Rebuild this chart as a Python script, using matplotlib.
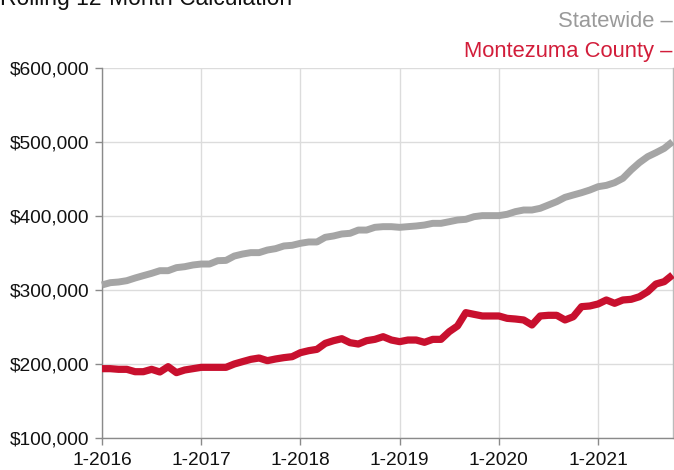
import matplotlib
matplotlib.use("Agg")
import matplotlib.pyplot as plt
import numpy as np

plt.rcParams['font.family'] = ['Liberation Sans', 'DejaVu Sans']

# Monthly data Jan 2016 .. Oct 2021
statewide = [
    306.8, 309.9, 310.8, 312.6, 316.2, 319.4, 322.5, 326.1, 326.1, 330.2, 331.5, 333.8,
    335.1, 335.1, 339.6, 340.0, 345.9, 348.6, 350.5, 350.5, 354.0, 355.9, 359.5, 360.4,
    363.1, 364.9, 364.9, 371.2, 373.0, 375.7, 376.6, 381.0, 381.0, 384.7, 385.6, 385.6,
    384.7, 385.6, 386.5, 387.8, 390.1, 390.1, 392.3, 394.6, 395.5, 399.1, 400.5, 400.5,
    400.5, 402.3, 405.9, 408.1, 408.1, 410.4, 414.9, 419.4, 425.2, 428.4, 431.5, 435.1,
    439.6, 441.4, 445.0, 450.9, 462.2, 472.1, 480.2, 485.6, 491.4, 500.4,
]
montezuma = [
    193.7, 193.7, 192.8, 192.8, 189.6, 189.6, 192.8, 189.2, 196.4, 188.3, 191.9, 193.7,
    195.5, 195.5, 195.5, 195.5, 200.0, 203.2, 206.3, 208.1, 204.5, 206.8, 208.6, 209.9,
    215.3, 218.0, 219.8, 227.9, 231.5, 234.2, 228.8, 227.0, 231.5, 233.3, 236.9, 232.4,
    230.2, 232.4, 232.4, 229.3, 233.3, 233.3, 243.7, 251.4, 269.4, 267.1, 264.9, 264.9,
    264.9, 261.7, 260.8, 259.5, 252.7, 264.9, 265.8, 265.8, 259.5, 263.9, 277.5, 278.4,
    281.1, 286.5, 282.0, 286.5, 287.4, 290.9, 297.7, 308.1, 311.3, 320.3,
]
x_tick_labels = ['1-2016', '1-2017', '1-2018', '1-2019', '1-2020', '1-2021']
y_ticks = [100000, 200000, 300000, 400000, 500000, 600000]

months = np.arange(len(statewide))
sw = np.array(statewide) * 1000
mc = np.array(montezuma) * 1000

W, H = 674, 470
fig = plt.figure(figsize=(W / 100, H / 100), dpi=100)
ax = fig.add_axes([102 / W, 1 - 438 / H, (672.5 - 102) / W, (438 - 68) / H])

gray = '#a5a5a5'
red = '#c8102e'

ax.plot(months, sw, color=gray, lw=5.0, solid_capstyle='butt', solid_joinstyle='round', zorder=3, clip_on=False)
ax.plot(months, mc, color=red, lw=5.2, solid_capstyle='butt', solid_joinstyle='round', zorder=4, clip_on=False)

ax.set_xlim(0, len(statewide) - 1)
ax.set_ylim(100000, 600000)
ax.set_xticks(np.arange(0, len(statewide), 12))
ax.set_xticklabels(x_tick_labels)
ax.set_yticks(y_ticks)
ax.set_yticklabels(['${:,.0f}'.format(v) for v in y_ticks])

ax.grid(True, color='#dcdcdc', lw=1.0, zorder=0)
ax.set_axisbelow(True)
ax.spines['top'].set_visible(False)
ax.spines['right'].set_color('#bbbbbb')
ax.spines['right'].set_linewidth(1.0)
for s in ['left', 'bottom']:
    ax.spines[s].set_color('#8a8a8a')
    ax.spines[s].set_linewidth(1.0)

ax.tick_params(axis='both', colors='#8a8a8a', labelcolor='#111111', labelsize=13.8,
               length=5, width=1.0, direction='out')
ax.tick_params(axis='y', pad=4)
ax.tick_params(axis='x', pad=5)

fig.text(0, 1 - 5 / H, 'Rolling 12-Month Calculation', fontsize=16.5, color='#111111',
         ha='left', va='baseline')
fig.text(673 / W, 1 - 27 / H, 'Statewide \u2013', fontsize=15.8, color='#9a9a9a',
         ha='right', va='baseline')
fig.text(673 / W, 1 - 57 / H, 'Montezuma County \u2013', fontsize=15.8, color='#d21d3a',
         ha='right', va='baseline')

fig.savefig('out.png', dpi=100)
